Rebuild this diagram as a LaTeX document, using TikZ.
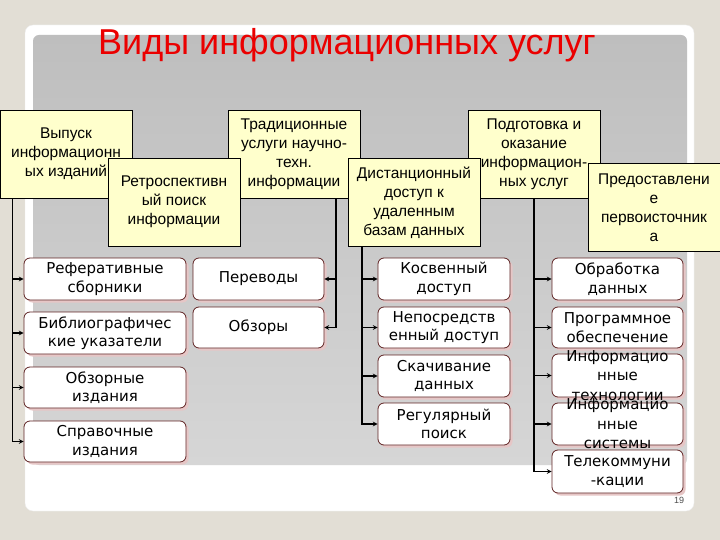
\documentclass[tikz,border=0pt]{standalone}
\usepackage{fontspec}
\setmainfont{Liberation Sans}
\newfontfamily\dejavu{DejaVu Sans}
\usepackage{xcolor}
\usepackage{tikz}
\usetikzlibrary{shadows}

\definecolor{slidebg}{RGB}{226,222,213}
\definecolor{paneltop}{RGB}{190,190,190}
\definecolor{panelbot}{RGB}{214,214,214}
\definecolor{boxyel}{RGB}{255,255,204}
\definecolor{boxline}{RGB}{95,35,35}
\definecolor{boxshade}{RGB}{230,198,198}
\definecolor{titlered}{RGB}{235,0,0}

\begin{document}
\begin{tikzpicture}[x=1pt,y=1pt,yscale=-1,xscale=1,
  ybox/.style={draw=black,line width=0.9pt,fill=boxyel,minimum width=132,minimum height=88,
    inner sep=2pt,align=center,font=\fontsize{15.5}{19}\selectfont},
  wbox/.style={draw=boxline,line width=0.8pt,fill=white,rounded corners=6pt,minimum height=42,
    inner sep=1pt,align=center,font=\dejavu\fontsize{15}{18.5}\selectfont,
    drop shadow={shadow xshift=2.5pt,shadow yshift=-2.5pt,fill=boxshade,opacity=1}},
  wtext/.style={align=center,font=\dejavu\fontsize{15}{19.5}\selectfont},
  conn/.style={line width=1.1pt,-stealth}]
\useasboundingbox (0,0) rectangle (720,540);

%Shape: Slide background
\fill [slidebg] (0,0) rectangle (720,540);
\draw [white!85!gray,fill=white,rounded corners=8pt] (25,25) rectangle (694,511);
\shade [top color=paneltop,bottom color=panelbot,rounded corners=6pt] (33,35) rectangle (687,465);

% Text Node
\node [text=titlered,font=\fontsize{36}{38}\selectfont] (title) at (347,45) {Виды информационных услуг};

%Shape: Rectangle [top row]
\node [ybox] (vyp) at (66,154) {Выпуск\\информационн\\ых изданий};
\node [ybox] (trad) at (294,154) {Традиционные\\услуги научно-\\техн.\\информации};
\node [ybox] (podg) at (534,154) {Подготовка и\\оказание\\информацион-\\ных услуг};
%Shape: Rectangle [second row]
\node [ybox] (retro) at (174,202) {Ретроспективн\\ый поиск\\информации};
\node [ybox] (dist) at (414,202.5) {Дистанционный\\доступ к\\удаленным\\базам данных};
\node [ybox] (pred) at (654,207.5) {Предоставлени\\е\\первоисточник\\а};

%Shape: Rounded Rect
\node [wbox,minimum width=162] (ref) at (105,279) {Реферативные\\сборники};
\node [wbox,minimum width=162] (bibl) at (105,333) {Библиографичес\\кие указатели};
\node [wbox,minimum width=162,minimum height=41] (obzi) at (105,387.5) {Обзорные\\издания};
\node [wbox,minimum width=162,minimum height=41] (sprav) at (105,441.5) {Справочные\\издания};

\node [wbox,minimum width=131] (perev) at (258.5,279) {Переводы};
\node [wbox,minimum width=131,minimum height=41] (obzor) at (258.5,327.5) {Обзоры};

\node [wbox,minimum width=132] (kosv) at (444,279) {Косвенный\\доступ};
\node [wbox,minimum width=132,minimum height=41] (nepo) at (444,327.5) {Непосредств\\енный доступ};
\node [wbox,minimum width=132] (skach) at (444,376) {Скачивание\\данных};
\node [wbox,minimum width=132] (regul) at (444,424) {Регулярный\\поиск};

\node [wbox,minimum width=131] (obrab) at (617.5,279) {Обработка\\данных};
\node [wbox,minimum width=131,minimum height=41] (progr) at (617.5,327.5) {Программное\\обеспечение};
\node [wbox,minimum width=131,minimum height=43,label={[wtext]center:Информацио\\нные\\технологии}] (itech) at (617.5,375.5) {};
\node [wbox,minimum width=131,label={[wtext]center:Информацио\\нные\\системы}] (isys) at (617.5,424) {};
\node [wbox,minimum width=131,minimum height=43] (telek) at (617.5,471.5) {Телекоммуни\\-кации};

% Text Node
\node [text=black!70,font=\fontsize{9}{10}\selectfont] (pnum) at (679,500) {19};

%Straight Lines
\coordinate (tA) at (12.7,0);
\coordinate (tB) at (336,0);
\coordinate (tC) at (362,0);
\coordinate (tD) at (534,0);

\foreach \b in {ref,bibl,obzi,sprav}
  \draw [conn] (vyp.south -| tA) |- (\b.west);
\foreach \b in {perev,obzor}
  \draw [conn] (trad.south -| tB) |- (\b.east);
\foreach \b in {kosv,nepo,skach,regul}
  \draw [conn] (dist.south -| tC) |- (\b.west);
\foreach \b in {obrab,progr,itech,isys,telek}
  \draw [conn] (podg.south -| tD) |- (\b.west);
\end{tikzpicture}
\end{document}
